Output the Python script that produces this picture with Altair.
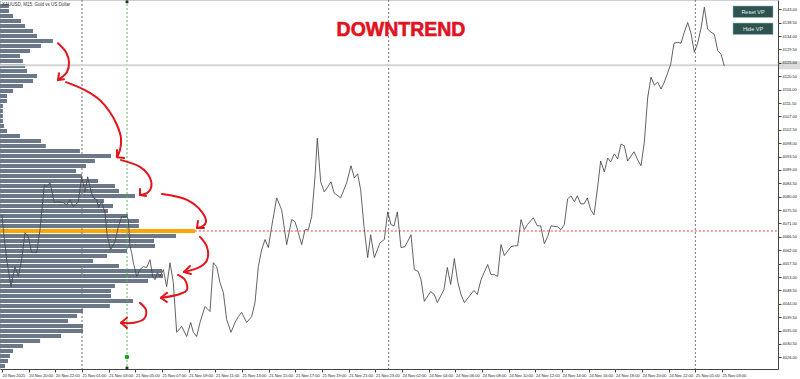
import altair as alt
import pandas as pd

# ---------------- data ----------------
# close line: bar index (15-minute bars since 20 Nov 18:00) and price
bars = [0, 0.4, 1.4, 2.7, 3.9, 4.9, 5.9, 6.9, 7.9, 8.9,
        10.4, 11.4, 12.7, 13.4, 14.4, 15.7, 16.9, 18.4, 19.4, 20.4,
        21.4, 22.9, 23.9, 24.9, 25.7, 26.6, 27.4, 28.4, 28.9, 29.9,
        30.9, 31.6, 32.6, 33.9, 34.9, 35.9, 37.4, 37.9, 38.4, 38.9,
        39.4, 40.4, 41.4, 42.4, 43.4, 44.4, 45.2, 45.9, 46.6, 47.4,
        48.4, 49.4, 50.4, 51.4, 52.4, 53.9, 55.4, 56.6, 57.4, 58.4,
        59.4, 60.9, 62.4, 63.4, 64.4, 65.4, 66.4, 67.4, 68.7, 69.9,
        70.9, 71.9, 73.4, 74.9, 75.9, 76.9, 77.9, 78.9, 79.9, 80.9,
        82.4, 83.9, 85.4, 86.9, 87.9, 88.9, 89.9, 90.9, 91.9, 92.9,
        93.9, 94.6, 95.6, 96.7,
        98.7, 99.6, 101.6, 103.4, 104.7, 105.7, 106.7, 107.6, 108.6, 109.7,
        110.6, 111.7, 113.4, 114.7, 115.7, 116.7, 117.6, 118.6, 119.7, 120.9,
        122.7, 123.7, 124.9, 125.7, 126.7, 128.6, 129.7, 130.6, 132.6, 133.6,
        134.6, 135.7, 136.7, 137.7, 138.7, 141.6, 142.6, 143.7, 145.7, 146.7,
        147.7, 148.7, 149.7, 150.7, 152.7, 153.7, 154.7, 155.7, 156.7, 157.6,
        159.4, 160.6, 161.6, 162.7, 163.7, 164.7, 166.7, 167.7, 168.7, 169.7,
        170.7, 171.7, 172.6, 173.6, 174.6, 175.6, 176.6, 177.6, 178.7, 179.6,
        180.7, 181.7, 182.6, 183.7, 184.7, 185.7, 186.7, 187.7, 189.6, 190.7,
        191.7, 192.7, 193.7, 194.7, 195.7, 196.7, 197.7, 198.7, 200.6, 201.6,
        202.7, 203.7, 204.7, 205.7, 206.7, 207.7, 208.7, 209.7, 210.7, 211.7,
        212.7, 213.7, 214.7, 215.7, 216.7]
closes = [4073.9, 4068.9, 4058.8, 4049.8, 4056.5, 4053.2, 4058.8, 4067.9, 4066.6, 4061.2,
          4061.2, 4068.9, 4084.0, 4083.3, 4084.7, 4078.0, 4078.3, 4078.0, 4077.3, 4079.0,
          4076.6, 4078.3, 4086.7, 4081.6, 4086.7, 4082.3, 4079.6, 4079.0, 4076.3, 4078.3,
          4074.6, 4066.6, 4062.2, 4064.9, 4069.9, 4073.3, 4073.3, 4072.3, 4063.2, 4061.2,
          4057.8, 4053.2, 4055.5, 4056.5, 4056.2, 4058.8, 4053.2, 4052.1, 4054.5, 4053.2,
          4055.5, 4049.8, 4057.8, 4051.1, 4034.4, 4036.4, 4033.0, 4037.7, 4034.4, 4033.0,
          4037.7, 4043.1, 4041.4, 4057.8, 4056.5, 4051.1, 4047.8, 4038.7, 4034.4, 4037.7,
          4039.7, 4041.1, 4037.7, 4039.7, 4044.4, 4056.5, 4062.2, 4065.6, 4062.9, 4069.9,
          4079.6, 4075.6, 4063.9, 4072.3, 4071.6, 4067.9, 4063.9, 4068.9, 4068.9, 4073.3,
          4086.7, 4099.7, 4085.0, 4081.6,
          4085.0, 4081.3, 4079.6, 4084.7, 4090.4, 4086.3, 4087.7, 4082.3, 4069.9, 4059.5,
          4067.2, 4059.5, 4064.5, 4065.6, 4074.9, 4070.6, 4070.2, 4074.9, 4062.9, 4063.2,
          4067.2, 4055.5, 4054.8, 4052.1, 4044.8, 4048.1, 4047.1, 4044.4, 4048.8, 4056.2,
          4050.5, 4059.2, 4051.5, 4047.1, 4044.4, 4048.5, 4047.1, 4052.1, 4057.2, 4053.8,
          4053.8, 4053.2, 4063.9, 4060.2, 4063.2, 4063.5, 4063.5, 4072.3, 4068.9, 4070.6,
          4072.9, 4070.2, 4070.2, 4064.2, 4066.6, 4070.2, 4069.9, 4068.9, 4070.6, 4079.3,
          4080.3, 4078.3, 4080.3, 4077.6, 4077.6, 4079.6, 4075.6, 4073.9, 4083.3, 4092.0,
          4088.3, 4093.0, 4091.7, 4094.4, 4092.7, 4097.7, 4097.1, 4092.0, 4095.1, 4092.4,
          4090.4, 4098.4, 4113.2, 4120.2, 4117.5, 4118.5, 4116.2, 4118.5, 4124.5, 4131.6,
          4131.9, 4131.6, 4135.3, 4138.6, 4134.9, 4128.6, 4131.6, 4136.6, 4143.7, 4136.3,
          4135.3, 4134.6, 4129.2, 4127.9, 4123.9]

# volume profile: fixed-size price bins from the top bin downwards
profile_top_level = 4144.11
profile_step = 1.681
profile_volume = [4.6, 4.6, 6.7, 10.8, 12.9, 17.0, 19.0, 27.2, 21.1, 15.4,
                  10.3, 11.8, 12.9, 13.9, 19.0, 17.0, 11.8, 6.7, 3.6, 3.6,
                  1.5, 1.5, 1.5, 1.5, 2.1,
                  3.6, 10.3, 21.1, 23.6, 41.1, 57.1, 48.8, 44.2, 39.1, 42.1,
                  50.4, 59.1, 61.2, 69.4, 53.5, 58.1, 55.5, 65.8, 71.4, 71.4,
                  100.2, 90.5, 79.2, 79.7, 65.3, 55.0, 47.8, 61.2, 83.3, 83.8,
                  76.1, 59.1, 57.1, 57.1, 68.4, 56.5, 42.7, 39.6, 35.0, 42.7,
                  42.7, 31.4, 20.6, 11.8, 6.7, 5.1, 4.1, 2.6]

current_price = 4124.2

tick_bars = [0, 8, 16, 24, 32, 40, 48, 56, 64, 72, 80, 88, 96, 104, 112,
             120, 128, 136, 144, 152, 160, 168, 176, 184, 192, 200, 208, 216]
tick_labels = ["20 Nov 2025", "20 Nov 20:00", "20 Nov 22:00", "21 Nov 01:00",
               "21 Nov 03:00", "21 Nov 05:00", "21 Nov 07:00", "21 Nov 09:00",
               "21 Nov 11:00", "21 Nov 13:00", "21 Nov 15:00", "21 Nov 17:00",
               "21 Nov 19:00", "21 Nov 21:00", "21 Nov 23:00", "24 Nov 02:00",
               "24 Nov 04:00", "24 Nov 06:00", "24 Nov 08:00", "24 Nov 10:00",
               "24 Nov 12:00", "24 Nov 14:00", "24 Nov 16:00", "24 Nov 18:00",
               "24 Nov 20:00", "24 Nov 22:00", "25 Nov 01:00", "25 Nov 03:00"]
price_ticks = [4026.0, 4030.5, 4035.0, 4039.5, 4044.0, 4048.5, 4053.0, 4057.5,
               4062.0, 4066.5, 4071.0, 4075.5, 4080.0, 4084.5, 4089.0, 4093.5,
               4098.0, 4102.5, 4107.0, 4111.5, 4116.0, 4120.5, 4125.0, 4129.5,
               4134.0, 4138.5, 4143.0]
separator_bars = [24, 116, 208]
anchor_bar = 37.5

# hand-drawn red arrows (bar, price) along each stroke
arrow_paths = {
    "a1": [(16.8, 4131.6), (19.2, 4128.6), (20.1, 4125.2), (19.5, 4121.9), (18.0, 4120.2), (16.8, 4119.2)],
    "a2": [(19.2, 4118.5), (24.9, 4115.8), (29.4, 4112.4), (32.4, 4108.4), (34.5, 4104.1), (35.7, 4099.7), (35.4, 4095.7), (34.5, 4093.3)],
    "a3": [(35.7, 4092.3), (41.4, 4090.0), (44.4, 4086.3), (44.7, 4082.9), (43.5, 4081.2), (41.4, 4080.6)],
    "a4": [(48.0, 4080.9), (55.5, 4078.9), (60.0, 4074.8), (61.2, 4071.5), (60.3, 4070.1), (58.5, 4069.5)],
    "a5": [(59.4, 4066.5), (61.5, 4063.1), (61.5, 4058.7), (59.4, 4056.4), (54.6, 4054.7)],
    "a6": [(52.8, 4053.7), (54.9, 4052.0), (55.5, 4048.7), (53.4, 4047.3), (47.7, 4046.0)],
    "a7": [(41.4, 4044.3), (43.2, 4041.9), (42.6, 4038.9), (39.6, 4037.6), (35.7, 4037.6)],
}
# arrow heads: tip (bar, price) -> arm end (bar, price)
arrow_heads = [
    (16.8, 4119.2, 18.6, 4119.5), (16.8, 4119.2, 17.1, 4121.5),
    (34.5, 4093.3, 34.5, 4095.7), (34.5, 4093.3, 36.6, 4093.0),
    (41.4, 4080.6, 41.4, 4082.6), (41.4, 4080.6, 43.2, 4080.2),
    (58.5, 4069.5, 58.8, 4071.8), (58.5, 4069.5, 60.6, 4069.5),
    (54.6, 4054.7, 56.4, 4056.7), (54.6, 4054.7, 56.7, 4054.0),
    (47.7, 4046.0, 49.5, 4047.7), (47.7, 4046.0, 49.5, 4044.6),
    (35.7, 4037.6, 37.5, 4039.3), (35.7, 4037.6, 37.5, 4035.9),
]

# ---------------- layout ----------------
W, H = 778, 369
X_DOMAIN = [-0.6, 232.8]
Y_DOMAIN = [4022.07, 4146.13]
FONT = "Liberation Sans"

xscale = alt.Scale(domain=X_DOMAIN, nice=False, zero=False)
yscale = alt.Scale(domain=Y_DOMAIN, nice=False, zero=False)
volscale = alt.Scale(domain=[0, 400], nice=False, zero=True)

label_expr = "[" + ",".join(repr(s) for s in tick_labels) + "][round(datum.value / 8)]"
xaxis = alt.Axis(values=tick_bars, labelExpr=label_expr, orient="bottom", title=None,
                 grid=False, tickSize=3, tickColor="#444", domainColor="#444",
                 labelFontSize=4, labelFont=FONT, labelColor="#222", labelAlign="left",
                 labelPadding=1, labelOverlap=False, labelFlush=False, labelBound=False)
yaxis = alt.Axis(values=price_ticks, format=".2f", orient="right", title=None,
                 grid=False, tickSize=3, tickColor="#444", domainColor="#444",
                 labelFontSize=4, labelFont=FONT, labelColor="#222", labelPadding=1,
                 labelOverlap=False, labelFlush=False, labelBound=False, zindex=1)


def X(field="bar:Q"):
    return alt.X(field, scale=xscale, axis=xaxis)


def Y(field="price:Q"):
    return alt.Y(field, scale=yscale, axis=yaxis)


# ---------------- tables ----------------
line_df = pd.DataFrame({"bar": bars, "price": closes})

vmax = max(profile_volume)
prof_rows = []
for i, v in enumerate(profile_volume):
    p = profile_top_level - i * profile_step
    prof_rows.append({"price": p, "lo": p - 0.68, "hi": p + 0.68, "zero": 0, "volume": v,
                      "kind": "poc" if v == vmax else "row"})
prof_df = pd.DataFrame(prof_rows)
poc_df = prof_df[prof_df["kind"] == "poc"].copy()

arrow_rows = []
for name, pts in arrow_paths.items():
    for i, (b, p) in enumerate(pts):
        arrow_rows.append({"arrow": name, "i": i, "bar": b, "price": p})
arrow_df = pd.DataFrame(arrow_rows)
head_df = pd.DataFrame(arrow_heads, columns=["bar", "price", "bar2", "price2"])

dummy = pd.DataFrame({"a": [0]})

# ---------------- profile group (own horizontal volume scale) ----------------
profile = alt.Chart(prof_df).mark_rect().encode(
    x=alt.X("zero:Q", scale=volscale, axis=None),
    x2="volume:Q",
    y=Y("lo:Q"),
    y2="hi:Q",
    color=alt.Color("kind:N", scale=alt.Scale(domain=["row", "poc"], range=["#6b7889", "#ffa500"]),
                    legend=None),
)
poc_line = alt.Chart(poc_df).mark_rule(color="#ff3a3a", strokeDash=[2, 2], strokeWidth=1).encode(
    x=alt.X("volume:Q", scale=volscale, axis=None),
    x2=alt.value(W),
    y=Y("price:Q"),
)
group_profile = alt.layer(profile, poc_line)

# ---------------- time / price group ----------------
seps = alt.Chart(pd.DataFrame({"bar": separator_bars})).mark_rule(
    color="#777", strokeDash=[2, 2], strokeWidth=1).encode(
    x=X(), y=alt.value(0), y2=alt.value(H))
anchor = alt.Chart(pd.DataFrame({"bar": [anchor_bar]})).mark_rule(
    color="#5cb85c", strokeDash=[2, 2], strokeWidth=1).encode(
    x=X(), y=alt.value(0), y2=alt.value(H))
cur_line = alt.Chart(pd.DataFrame({"price": [current_price]})).mark_rule(
    color="#d4d4d4", strokeWidth=2).encode(
    x=alt.value(0), x2=alt.value(800), y=Y())
cur_box = alt.Chart(pd.DataFrame({"lo": [current_price - 1.35], "hi": [current_price + 1.35]})).mark_rect(
    color="#dadada").encode(
    x=alt.value(W + 1), x2=alt.value(800), y=Y("lo:Q"), y2="hi:Q")
price_line = alt.Chart(line_df).mark_line(color="#474747", strokeWidth=0.85).encode(
    x=X(), y=Y(), order="bar:Q")
arrows = alt.Chart(arrow_df).mark_line(color="#e3141c", strokeWidth=2, interpolate="catmull-rom",
                                       strokeCap="round", strokeJoin="round").encode(
    x=X(), y=Y(), detail="arrow:N", order="i:Q")
heads = alt.Chart(head_df).mark_rule(color="#e3141c", strokeWidth=2, strokeCap="round").encode(
    x=X(), x2="bar2:Q", y=Y(), y2="price2:Q")
mark_green = alt.Chart(pd.DataFrame({"bar": [anchor_bar], "price": [4026.1]})).mark_point(
    filled=True, color="#1f9e1f", size=22, opacity=1).encode(x=X(), y=Y())
mark_black = alt.Chart(pd.DataFrame({"bar": [anchor_bar, anchor_bar], "price": [4145.5, 4022.4]})).mark_point(
    filled=True, shape="square", color="#1a3a1a", size=8, opacity=1).encode(x=X(), y=Y())

title = alt.Chart(dummy).mark_text(text="DOWNTREND", font=FONT, fontWeight="bold", fontSize=19.5,
                                   color="#e0131f", stroke="#e0131f", strokeWidth=0.6,
                                   align="center", baseline="middle").encode(
    x=alt.value(401), y=alt.value(30))
symbol = alt.Chart(dummy).mark_text(text="XAUUSD, M15:  Gold vs US Dollar", font=FONT, fontSize=4.5,
                                    color="#333", align="left", baseline="middle").encode(
    x=alt.value(2), y=alt.value(4.5))

btn_style = dict(fill="#2d5451", stroke="#9fb5b2", strokeWidth=0.6)
btn1 = alt.Chart(dummy).mark_rect(**btn_style).encode(
    x=alt.value(733), x2=alt.value(773), y=alt.value(6), y2=alt.value(17.5))
btn2 = alt.Chart(dummy).mark_rect(**btn_style).encode(
    x=alt.value(733), x2=alt.value(773), y=alt.value(23), y2=alt.value(34.5))
btn1_t = alt.Chart(dummy).mark_text(text="Reset VP", font=FONT, fontSize=5.5, color="#e4ecea",
                                    align="center", baseline="middle").encode(
    x=alt.value(753), y=alt.value(12))
btn2_t = alt.Chart(dummy).mark_text(text="Hide VP", font=FONT, fontSize=5.5, color="#e4ecea",
                                    align="center", baseline="middle").encode(
    x=alt.value(753), y=alt.value(29))

group_time = alt.layer(seps, anchor, cur_line, cur_box, price_line, arrows, heads,
                       mark_green, mark_black, title, symbol, btn1, btn2, btn1_t, btn2_t)

chart = alt.layer(group_profile, group_time).resolve_scale(x="independent").properties(
    width=W, height=H,
    autosize=alt.AutoSizeParams(type="none"),
    padding={"left": 0, "top": 0, "right": 22, "bottom": 10},
    background="white",
).configure_view(stroke="#cfcfcf", strokeWidth=1)

chart.save("out.html", embed_options={"renderer": "svg", "actions": False})
